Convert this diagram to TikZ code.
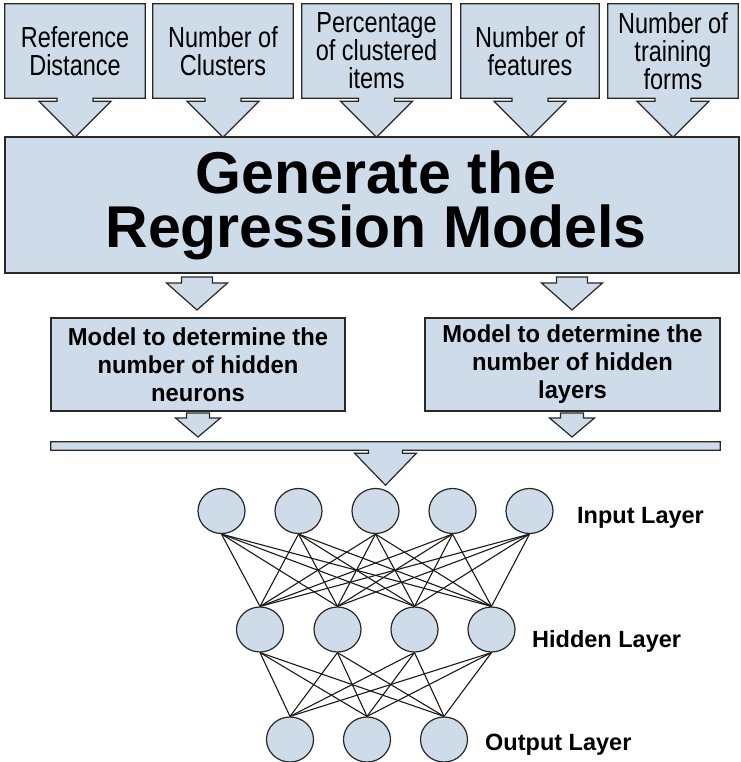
\documentclass[tikz,border=0pt]{standalone}
\usepackage{fontspec}
\setmainfont{Liberation Sans}
\newfontfamily\topfont[FakeStretch=0.81]{Liberation Sans}
\newfontfamily\modelfont[FakeStretch=0.97]{Liberation Sans Bold}
\usetikzlibrary{calc,backgrounds,shapes.geometric}
\definecolor{boxfill}{RGB}{206,220,234}
\definecolor{boxline}{RGB}{40,40,40}
% node, stem half width, head half width, stem length, head length
\newcommand{\downcallout}[5]{%
  \path[shapestyle] (#1.north west) -- (#1.north east) -- (#1.south east)
   -- ($(#1.south)+(#2,0)$) -- ($(#1.south)+(#2,#4)$) -- ($(#1.south)+(#3,#4)$)
   -- ($(#1.south)+(0,#4+#5)$) -- ($(#1.south)+(-#3,#4)$) -- ($(#1.south)+(-#2,#4)$)
   -- ($(#1.south)+(-#2,0)$) -- (#1.south west) -- cycle;}
% x, y top, stem half, stem length, head half, head length
\newcommand{\blockarrow}[6]{%
  \path[shapestyle] (#1-#3,#2) -- (#1+#3,#2) -- (#1+#3,#2+#4) -- (#1+#5,#2+#4)
   -- (#1,#2+#4+#6) -- (#1-#5,#2+#4) -- (#1-#3,#2+#4) -- cycle;}
\tikzset{
  shapestyle/.style={draw=boxline, fill=boxfill, line width=1.2pt, line join=miter},
  topbox/.style={minimum height=94pt, inner sep=0pt, align=center,
    font=\topfont\fontsize{29}{28}\selectfont},
  mainbox/.style={shapestyle, minimum width=734pt, minimum height=136pt, inner sep=0pt,
    align=center, font=\bfseries\fontsize{59}{54}\selectfont},
  modelbox/.style={shapestyle, minimum height=93pt, inner sep=0pt, align=center,
    font=\modelfont\fontsize{24.5}{28}\selectfont},
  barbox/.style={minimum width=669pt, minimum height=8pt, inner sep=0pt},
  neuron/.style={ellipse, draw=boxline, fill=boxfill, line width=1.2pt,
    minimum width=47pt, minimum height=45pt, inner sep=0pt},
  edge/.style={draw=black!90, line width=1.1pt},
  lbl/.style={anchor=base west, inner sep=0pt, font=\bfseries\fontsize{23.5}{28}\selectfont}
}
\begin{document}
\begin{tikzpicture}[x=1pt,y=-1pt]
\useasboundingbox (0,0) rectangle (740,762);

% top input boxes
\node[topbox, minimum width=140pt] (b1) at (75,51) {Reference\\Distance};
\node[topbox, minimum width=140pt] (b2) at (223,51) {Number of\\Clusters};
\node[topbox, minimum width=149pt] (b3) at (376.5,51) {Percentage\\of clustered\\items};
\node[topbox, minimum width=138pt] (b4) at (530,51) {Number of\\features};
\node[topbox, minimum width=130pt] (b5) at (673,51) {Number of\\training\\forms};

% bar
\node[barbox] (bar) at (385.5,446) {};

\begin{scope}[on background layer]
  \downcallout{b1}{18}{36}{3}{36}
  \downcallout{b2}{18}{36}{3}{36}
  \downcallout{b3}{18}{36}{3}{36}
  \downcallout{b4}{18}{36}{3}{36}
  \downcallout{b5}{18}{36}{3}{36}
  \downcallout{bar}{17}{31}{3}{32}
\end{scope}

% main box
\node[mainbox] (gen) at (372,205) {\hspace*{8pt}Generate the\\\hspace*{8pt}Regression Models};

% arrows below main box
\blockarrow{197}{277}{15.5}{6}{30.5}{27}
\blockarrow{572}{277}{15.5}{6}{30.5}{27}

% model boxes
\node[modelbox, minimum width=294pt] (m1) at (198,364.5) {Model to determine the\\number of hidden\\neurons};
\node[modelbox, minimum width=295pt] (m2) at (572.5,364.5) {Model to determine the\\number of hidden\\layers};

% arrows below model boxes
\blockarrow{198}{413}{11.5}{5}{22.5}{19}
\blockarrow{572}{413}{11.5}{5}{22.5}{19}

% network
\foreach \i/\x in {1/221.5,2/298.5,3/375.5,4/452.5,5/529.5}
  \node[neuron] (in\i) at (\x,511) {};
\foreach \i/\x in {1/260,2/337.5,3/414.5,4/491.5}
  \node[neuron] (hid\i) at (\x,629.5) {};
\foreach \i/\x in {1/290,2/367,3/444}
  \node[neuron] (out\i) at (\x,739.5) {};

\foreach \i in {1,...,5}
  \foreach \j in {1,...,4}
    \draw[edge] (in\i.south) -- (hid\j.north);
\foreach \i in {1,...,4}
  \foreach \j in {1,...,3}
    \draw[edge] (hid\i.south) -- (out\j.north);

\node[lbl] (lin) at (577,523) {Input Layer};
\node[lbl] (lhid) at (532,647) {Hidden Layer};
\node[lbl] (lout) at (485,750) {Output Layer};
\end{tikzpicture}
\end{document}
